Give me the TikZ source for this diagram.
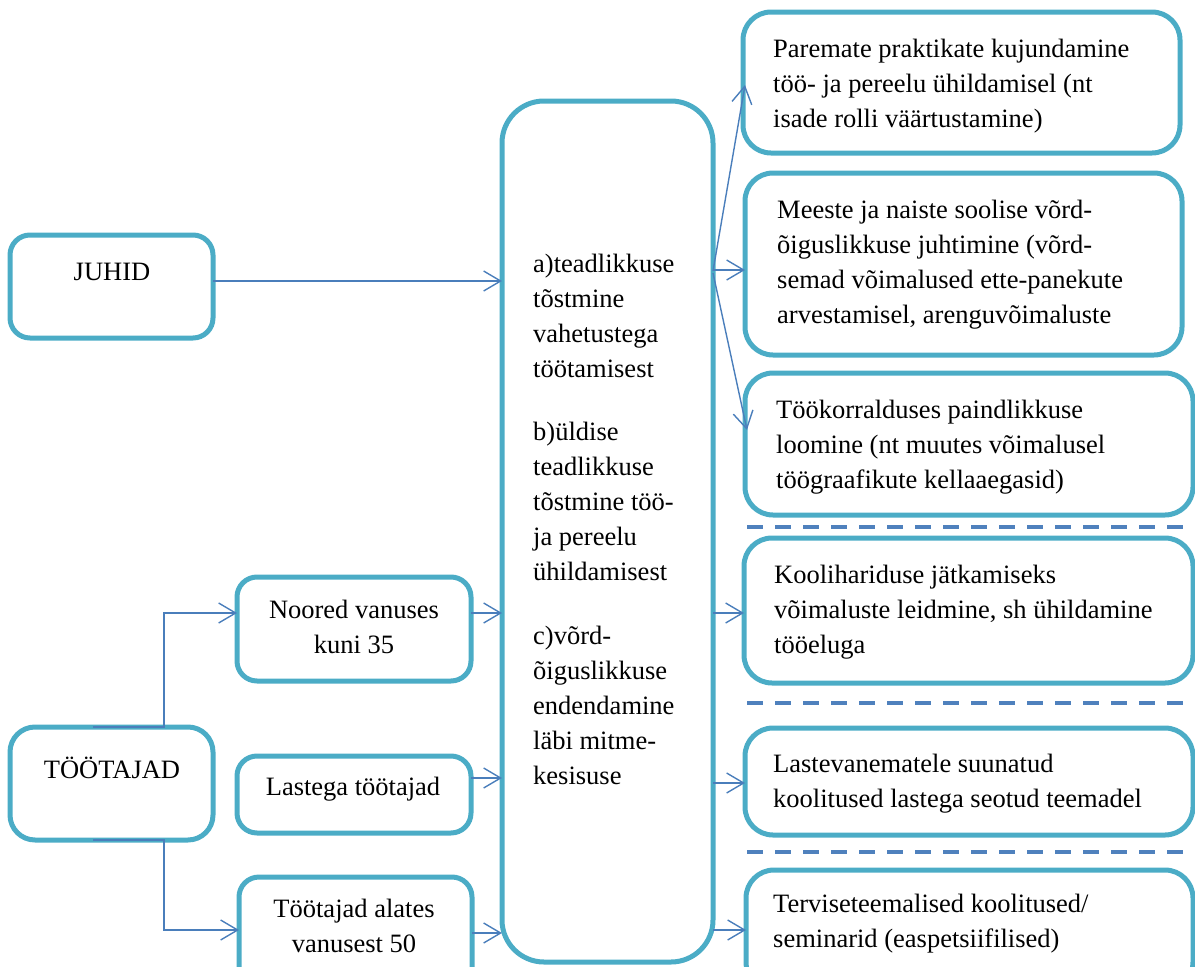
\documentclass[tikz,border=0pt]{standalone}
\usepackage{fontspec}
\setmainfont{Liberation Serif}
\usetikzlibrary{arrows.meta}
\definecolor{boxc}{HTML}{4BACC6}
\definecolor{arrc}{HTML}{4A7EBB}
\definecolor{dashc}{HTML}{4F81BD}
\newcommand\txtL[1]{\parbox[t]{430pt}{\raggedright #1}}
\newcommand\txtC[1]{\parbox[t]{240pt}{\centering #1}}
\tikzset{
  every node/.style={font=\fontsize{26.5}{35}\selectfont},
  boxnode/.style={draw=boxc, line width=5pt, rounded corners=#1, inner sep=0pt, outer sep=0pt},
  boxnode/.default=28pt,
  lefttext/.style={anchor=base west, inner sep=0pt},
  ctrtext/.style={anchor=base, inner sep=0pt},
  conn/.style={draw=arrc, line width=1.4pt, -{Straight Barb[length=17pt,width=20pt,line width=1.4pt]}},
  dashline/.style={draw=dashc, line width=4pt, dash pattern=on 16pt off 12pt},
}
\begin{document}
\begin{tikzpicture}[x=1pt,y=-1pt]
\useasboundingbox (0,0) rectangle (1195,967);
% boxes
\node[boxnode=20pt, minimum width=203pt, minimum height=103pt] (juhid) at (111.5,286.5) {};
\node[boxnode=25pt, minimum width=203pt, minimum height=113pt] (toot) at (111.5,783.5) {};
\node[boxnode=20pt, minimum width=234pt, minimum height=104pt] (noored) at (354,629) {};
\node[boxnode=20pt, minimum width=234pt, minimum height=77pt] (lastega) at (354,794.5) {};
\node[boxnode=20pt, minimum width=233pt, minimum height=113pt] (alates) at (355.5,933.5) {};
\node[boxnode=42pt, minimum width=211pt, minimum height=861pt] (mid) at (607.5,531.5) {};
\node[boxnode, minimum width=437pt, minimum height=141pt] (r1) at (961.5,82.5) {};
\node[boxnode, minimum width=437pt, minimum height=182pt] (r2) at (963.5,264) {};
\node[boxnode, minimum width=448pt, minimum height=142pt] (r3) at (969,444) {};
\node[boxnode, minimum width=449pt, minimum height=145pt] (r4) at (968.5,610.5) {};
\node[boxnode, minimum width=448pt, minimum height=107pt] (r5) at (969,781.5) {};
\node[boxnode, minimum width=447pt, minimum height=120pt] (r6) at (969.5,930) {};
% texts
\node[ctrtext] (tjuhid) at (112,280) {JUHID};
\node[ctrtext] (ttoot) at (112,778) {TÖÖTAJAD};
\node[ctrtext] (tnoored) at (354,618) {\txtC{Noored vanuses\\kuni 35}};
\node[ctrtext] (tlastega) at (353,795) {Lastega töötajad};
\node[ctrtext] (talates) at (354,917) {\txtC{Töötajad alates\\vanusest 50}};
\node[lefttext] (tmid) at (533,272) {\txtL{a)teadlikkuse\\tõstmine\\vahetustega\\töötamisest\\[28pt]b)üldise\\teadlikkuse\\tõstmine töö-\\ja pereelu\\ühildamisest\\[29pt]c)võrd-\\õiguslikkuse\\endendamine\\läbi mitme-\\kesisuse}};
\node[lefttext] (tr1) at (773,57) {\txtL{Paremate praktikate kujundamine\\töö- ja pereelu ühildamisel (nt\\isade rolli väärtustamine)}};
\node[lefttext] (tr2) at (777,218) {\txtL{Meeste ja naiste soolise võrd-\\õiguslikkuse juhtimine (võrd-\\semad võimalused ette-panekute\\arvestamisel, arenguvõimaluste}};
\node[lefttext] (tr3) at (776,418) {\txtL{Töökorralduses paindlikkuse\\loomine (nt muutes võimalusel\\töögraafikute kellaaegasid)}};
\node[lefttext] (tr4) at (774,583) {\txtL{Koolihariduse jätkamiseks\\võimaluste leidmine, sh ühildamine\\tööeluga}};
\node[lefttext] (tr5) at (773,772) {\txtL{Lastevanematele suunatud\\koolitused lastega seotud teemadel}};
\node[lefttext] (tr6) at (773,912) {\txtL{Terviseteemalised koolitused/\\seminarid (easpetsiifilised)}};
% row coordinates
\coordinate (y85) at (0,85);
\coordinate (y270) at (0,270);
\coordinate (y271) at (0,271);
\coordinate (y273) at (0,273);
\coordinate (y281) at (0,281);
\coordinate (y430) at (0,430);
\coordinate (y613) at (0,613);
\coordinate (y778) at (0,778);
\coordinate (y783) at (0,783);
\coordinate (y930) at (0,930);
\coordinate (y933) at (0,933);
\coordinate (xj) at (164,0);
% connectors
\draw[conn] (juhid.east |- y281) -- (mid.west |- y281);
\draw[conn] ([xshift=-18.5pt]toot.north) -- (xj |- toot.north) -- (xj |- y613) -- (noored.west |- y613);
\draw[conn] ([xshift=-18.5pt]toot.south) -- (xj |- toot.south) -- (xj |- y930) -- (alates.west |- y930);
\draw[conn] (noored.east |- y613) -- (mid.west |- y613);
\draw[conn] (lastega.east |- y778) -- (mid.west |- y778);
\draw[conn] (alates.east |- y933) -- (mid.west |- y933);
\draw[conn] (mid.east |- y271) -- ([xshift=2pt]r1.west |- y85);
\draw[conn] (mid.east |- y270) -- (r2.west |- y270);
\draw[conn] (mid.east |- y273) -- ([xshift=2pt]r3.west |- y430);
\draw[conn] (mid.east |- y613) -- (r4.west |- y613);
\draw[conn] (mid.east |- y783) -- (r5.west |- y783);
\draw[conn] (mid.east |- y930) -- (r6.west |- y930);
% dashed separators
\draw[dashline] (747,527) -- (1195,527);
\draw[dashline] (747,703) -- (1195,703);
\draw[dashline] (747,852) -- (1195,852);
\end{tikzpicture}
\end{document}
